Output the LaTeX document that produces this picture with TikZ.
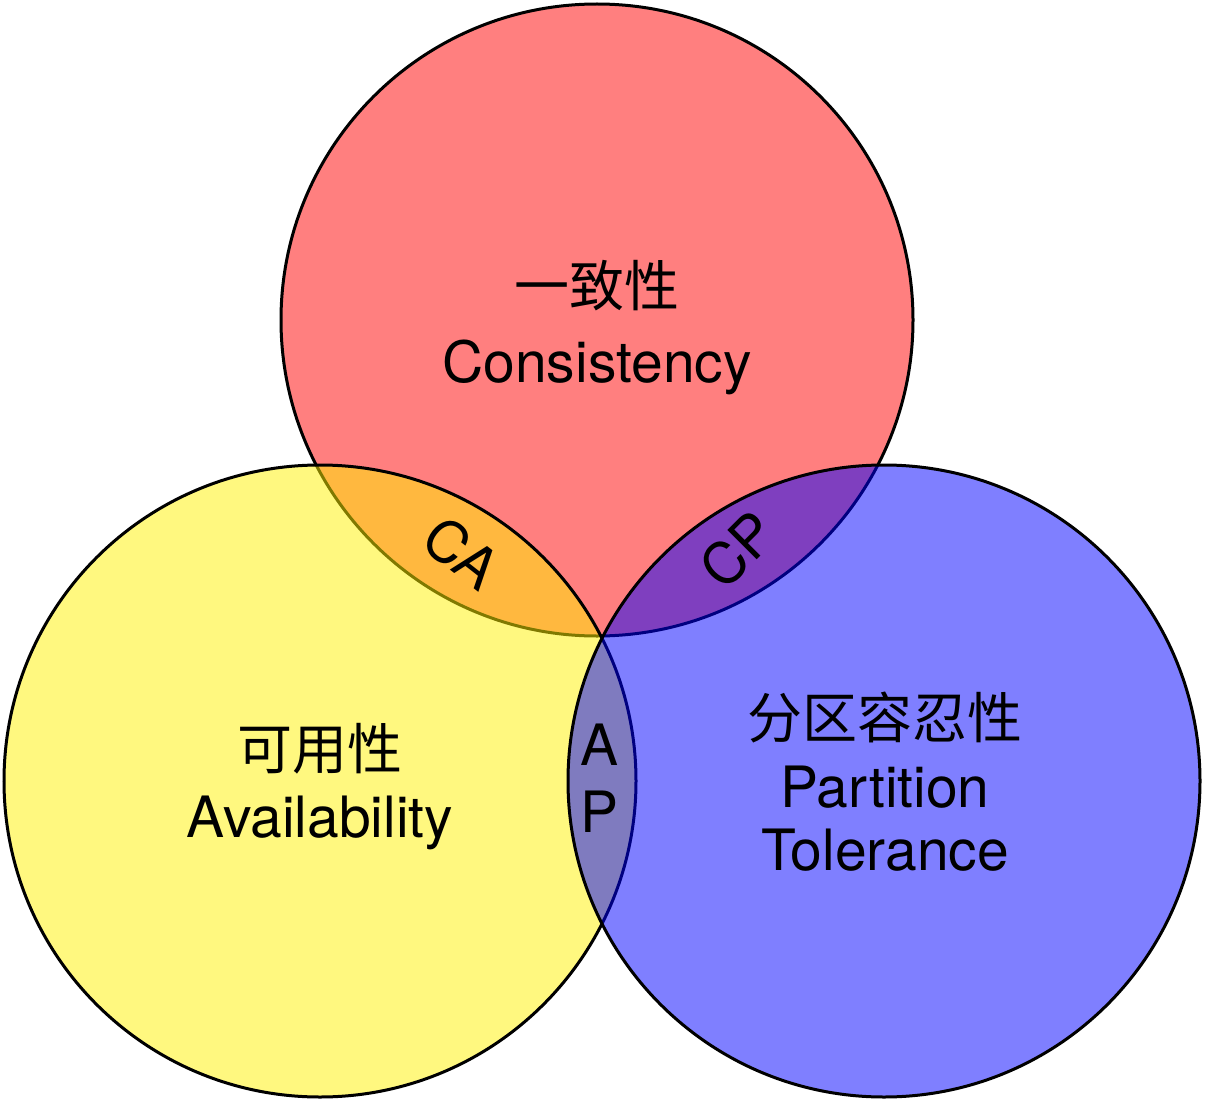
\documentclass[tikz,border=0pt]{standalone}
\usepackage{fontspec}
\setmainfont{TeX Gyre Heros}
\newfontfamily\zhfont{Noto Sans CJK SC}
\begin{document}
\begin{tikzpicture}[x=0.5pt, y=-0.5pt, line width=1.5pt,
    word/.style={font=\fontsize{28.5}{34}\selectfont, inner sep=0pt, anchor=base},
    zhword/.style={font=\fontsize{27.5}{33}\selectfont\zhfont, inner sep=0pt, anchor=base},
    tag/.style={font=\fontsize{28.5}{34}\selectfont, inner sep=0pt},
    set/.style={draw=black, fill opacity=0.5}]
    \useasboundingbox (0,0) rectangle (1205,1102);

    % Circles (each one half see-through, drawn top, left, right)
    \draw[set, fill=red] (597,320) circle (158pt);
    \draw[set, fill=yellow] (320,781) circle (158pt);
    \draw[set, fill=blue] (884,781) circle (158pt);

    % Consistency
    \node[zhword] (consZh) at (597,306) {一致性};
    \node[word] (consEn) at (597,382) {Consistency};

    % Availability
    \node[zhword] (availZh) at (320,769) {可用性};
    \node[word] (availEn) at (320,837) {Availability};

    % Partition tolerance
    \node[zhword] (partZh) at (885,738) {分区容忍性};
    \node[word] (partEn) at (885,807) {Partition};
    \node[word] (tolEn) at (885,870) {Tolerance};

    % Overlaps
    \node[tag, rotate=-38] (ca) at (462,553) {CA};
    \node[tag, rotate=45] (cp) at (738,550) {CP};
    \node[word] (apA) at (600,765) {A};
    \node[word] (apP) at (600,832) {P};
\end{tikzpicture}
\end{document}
